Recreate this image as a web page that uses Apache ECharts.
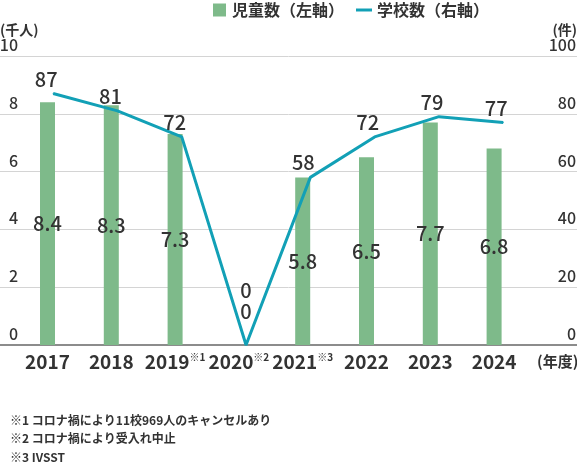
<!DOCTYPE html>
<html>
<head>
<meta charset="utf-8">
<script src="https://cdn.jsdelivr.net/npm/echarts@6/dist/echarts.min.js"></script>
<style>
  html, body { margin: 0; padding: 0; background: #fff; }
  #main { width: 577px; height: 463px; }
</style>
</head>
<body>
<div id="main"></div>
<script>
// データ
var years = ['2017', '2018', '2019', '2020', '2021', '2022', '2023', '2024'];
var yearNotes = ['', '', '※1', '※2', '※3', '', '', ''];
var children = [8.4, 8.3, 7.3, 0, 5.8, 6.5, 7.7, 6.8];   // 児童数（千人）
var schools = [87, 81, 72, 0, 58, 72, 79, 77];           // 学校数（件）
var leftTicks = [0, 10, 2];      // min, max, interval
var rightTicks = [0, 100, 20];
var notes = [
    '※1 コロナ禍により11校969人のキャンセルあり',
    '※2 コロナ禍により受入れ中止',
    '※3 IVSST'
];

var FONT = 'Noto Sans CJK JP';
var TXT = '#333';
var barColor = '#7eba8a';
var lineColor = '#12a0b6';

var echart = echarts.init(document.getElementById('main'));

// 0 の年は ラベル位置を個別に調整
var barData = children.map(function (v) {
    if (v === 0) {
        return { value: v, label: { position: 'top', distance: 24, offset: [7, 0] } };
    }
    return v;
});
var lineData = schools.map(function (v) {
    if (v === 0) {
        return { value: v, label: { distance: 44, offset: [0, 0] } };
    }
    return v;
});

var option = {
    animation: false,
    textStyle: { fontFamily: FONT },
    title: {
        text: notes.join('\n'),
        left: 5,
        top: 406,
        textStyle: { fontFamily: FONT, fontSize: 12, fontWeight: 'bold', color: TXT, lineHeight: 18.5 }
    },
    legend: [{
        data: ['児童数（左軸）'],
        left: 208,
        top: -3,
        icon: 'rect',
        itemWidth: 13,
        itemHeight: 13,
        textStyle: { fontFamily: FONT, fontSize: 16, fontWeight: 'bold', color: TXT, padding: [0, 0, 0, 1] }
    }, {
        data: ['学校数（右軸）'],
        left: 351,
        top: -3,
        icon: 'rect',
        itemWidth: 16,
        itemHeight: 3,
        textStyle: { fontFamily: FONT, fontSize: 16, fontWeight: 'bold', color: TXT }
    }],
    grid: [
        { left: 0, right: 0, top: 56, bottom: 118, outerBoundsMode: 'none' },       // 目盛り・罫線
        { left: 15.6, right: 51, top: 56, bottom: 118, outerBoundsMode: 'none' },   // 棒
        { left: 21, right: 41.6, top: 56, bottom: 118, outerBoundsMode: 'none' }    // 折れ線
    ],
    xAxis: [{
        gridIndex: 0,
        type: 'value',
        min: 0,
        max: 1,
        axisLine: { show: true, lineStyle: { color: '#8c8c8c', width: 2 } },
        axisTick: { show: false },
        axisLabel: { show: false },
        splitLine: { show: false }
    }, {
        gridIndex: 1,
        type: 'category',
        data: years,
        axisLine: { show: false },
        axisTick: { show: false },
        axisLabel: {
            interval: 0,
            margin: 7,
            formatter: function (val, i) {
                return yearNotes[i] ? '{y|' + val + '}{n|' + yearNotes[i] + '}' : '{y|' + val + '}';
            },
            rich: {
                y: { fontFamily: FONT, fontSize: 19, fontWeight: 'bold', color: TXT, lineHeight: 20 },
                n: { fontFamily: FONT, fontSize: 10, fontWeight: 'bold', color: TXT, lineHeight: 20, verticalAlign: 'top', padding: [0, 0, 2, 0] }
            }
        },
        name: '(年度)',
        nameLocation: 'end',
        nameGap: 11,
        nameTextStyle: { fontFamily: FONT, fontSize: 15, fontWeight: 'bold', color: TXT, verticalAlign: 'top', padding: [9, 0, 0, 0] }
    }, {
        gridIndex: 2,
        type: 'category',
        data: years,
        show: false
    }],
    yAxis: [{
        gridIndex: 0,
        type: 'value',
        position: 'left',
        min: leftTicks[0],
        max: leftTicks[1],
        interval: leftTicks[2],
        axisLine: { show: false },
        axisTick: { show: false },
        splitLine: { lineStyle: { color: '#d4d4d4', width: 1 } },
        axisLabel: {
            inside: true,
            align: 'right',
            verticalAlign: 'bottom',
            margin: 18,
            lineHeight: 22,
            fontFamily: FONT,
            fontSize: 16,
            fontWeight: 500,
            color: TXT
        },
        name: '(千人)',
        nameLocation: 'end',
        nameGap: 4,
        nameMoveOverlap: false,
        nameTextStyle: { fontFamily: FONT, fontSize: 14, fontWeight: 'bold', color: TXT, align: 'left', verticalAlign: 'bottom', padding: [0, 0, 15, 0] }
    }, {
        gridIndex: 0,
        type: 'value',
        position: 'right',
        min: rightTicks[0],
        max: rightTicks[1],
        interval: rightTicks[2],
        axisLine: { show: false },
        axisTick: { show: false },
        splitLine: { show: false },
        axisLabel: {
            inside: true,
            align: 'right',
            verticalAlign: 'bottom',
            margin: 1,
            lineHeight: 22,
            fontFamily: FONT,
            fontSize: 16,
            fontWeight: 500,
            color: TXT
        },
        name: '(件)',
        nameLocation: 'end',
        nameGap: 4,
        nameMoveOverlap: false,
        nameTextStyle: { fontFamily: FONT, fontSize: 14, fontWeight: 'bold', color: TXT, align: 'right', verticalAlign: 'bottom', padding: [0, 0, 15, 0] }
    }, {
        gridIndex: 1,
        type: 'value',
        min: leftTicks[0],
        max: leftTicks[1],
        show: false
    }, {
        gridIndex: 2,
        type: 'value',
        min: rightTicks[0],
        max: rightTicks[1],
        show: false
    }],
    series: [{
        name: '児童数（左軸）',
        type: 'bar',
        xAxisIndex: 1,
        yAxisIndex: 2,
        barWidth: 15,
        itemStyle: { color: barColor },
        label: {
            show: true,
            position: 'inside',
            fontFamily: FONT,
            fontSize: 20,
            fontWeight: 500,
            color: TXT
        },
        data: barData
    }, {
        name: '学校数（右軸）',
        type: 'line',
        xAxisIndex: 2,
        yAxisIndex: 3,
        symbol: 'circle',
        symbolSize: 1,
        showAllSymbol: true,
        lineStyle: { color: lineColor, width: 3 },
        itemStyle: { color: lineColor },
        label: {
            show: true,
            position: 'top',
            distance: 4,
            offset: [-7, 0],
            fontFamily: FONT,
            fontSize: 20,
            fontWeight: 500,
            color: TXT
        },
        data: lineData
    }]
};

echart.setOption(option);
</script>
</body>
</html>
